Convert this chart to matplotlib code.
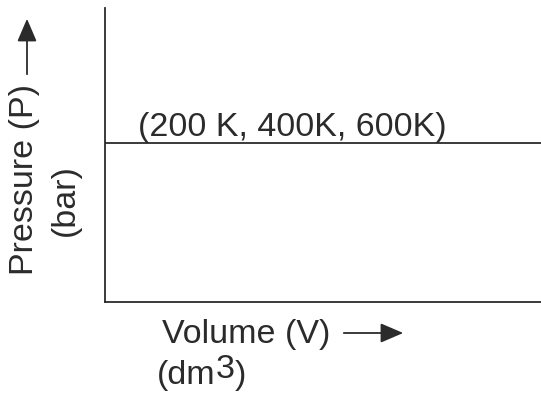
import matplotlib
matplotlib.use("Agg")
import matplotlib.pyplot as plt

plt.rcParams['font.family'] = ['Liberation Sans', 'DejaVu Sans']

# isobar: same line for all three temperatures
volume = [0, 10]
pressure = [4.6, 4.6]
line_label = "(200 K, 400K, 600K)"
x_label = "Volume (V)"
y_label = "Pressure (P)"

ink = '#2b2b2b'
fs = 24.5

fig = plt.figure(figsize=(5.41, 4.03), dpi=100)
ax = fig.add_axes([105/541, 101/403, 436/541, 294/403])
ax.plot(volume, pressure, color=ink, lw=1.3, solid_capstyle='butt')
ax.set_xlim(0, 10)
ax.set_ylim(0, 8.5)
ax.set_xticks([])
ax.set_yticks([])
for s in ('top', 'right'):
    ax.spines[s].set_visible(False)
for s in ('left', 'bottom'):
    ax.spines[s].set_color(ink)
    ax.spines[s].set_linewidth(1.3)

ax.text(0.075, 0.565, line_label, transform=ax.transAxes, fontsize=fs,
        color=ink, va='baseline', ha='left')

# x label + arrow
fig.text(162/541, 1 - 343/403, x_label, fontsize=fs, color=ink,
         ha='left', va='baseline')
fig.add_artist(matplotlib.patches.FancyArrowPatch(
    (341/541, 1 - 333/403), (406/541, 1 - 333/403), transform=fig.transFigure,
    arrowstyle='-|>,head_length=0.7,head_width=0.3', mutation_scale=20,
    color=ink, lw=1.3))
t1 = fig.text(157/541, 1 - 384/403, "(dm", fontsize=fs, color=ink,
              ha='left', va='baseline')
a3 = ax.annotate("3", xy=(1, 0), xycoords=t1, xytext=(0, 4),
                 textcoords='offset points', fontsize=fs, color=ink,
                 ha='left', va='bottom', annotation_clip=False)
ax.annotate(")", xy=(1, 0), xycoords=a3, xytext=(0, -4),
            textcoords='offset points', fontsize=fs, color=ink,
            ha='left', va='bottom', annotation_clip=False)

# y label + arrow
fig.text(33/541, 1 - 275/403, y_label, fontsize=fs, color=ink,
         rotation=90, ha='left', va='baseline', rotation_mode='anchor')
fig.add_artist(matplotlib.patches.FancyArrowPatch(
    (27/541, 1 - 77/403), (27/541, 1 - 16/403), transform=fig.transFigure,
    arrowstyle='-|>,head_length=0.7,head_width=0.3', mutation_scale=20,
    color=ink, lw=1.3))
fig.text(65/541, 1 - 200/403, "(bar)", fontsize=fs, color=ink,
         rotation=90, ha='center', va='center')

fig.savefig("out.png", dpi=100, facecolor='white')
